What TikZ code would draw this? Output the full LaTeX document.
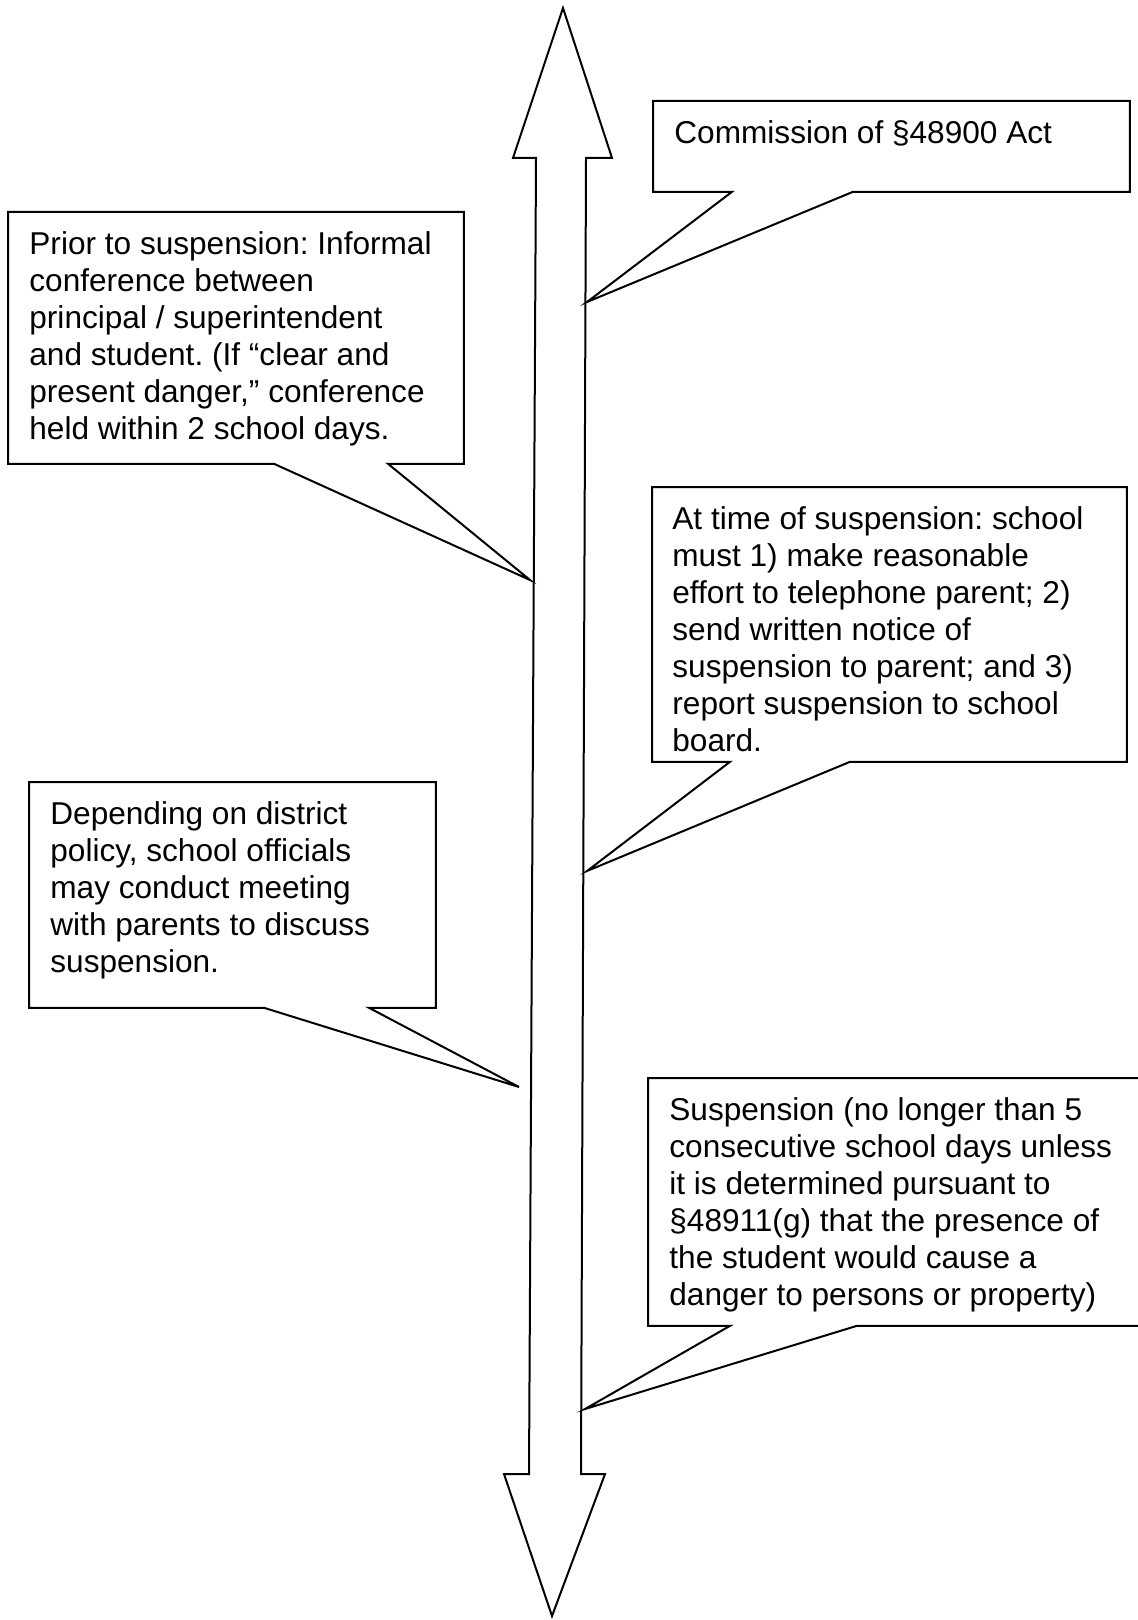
\documentclass[tikz,border=0pt]{standalone}
\usepackage{fontspec}
\setmainfont{Liberation Sans}
\usetikzlibrary{calc,positioning}
\frenchspacing

\begin{document}
\begin{tikzpicture}[
      x=0.5pt, y=-0.5pt,
      shell/.style={
            rectangle, inner sep=0pt, anchor=north west
        },
      note/.style={
            inner sep=0pt, align=left, text=black,
            font=\fontsize{15.8}{18.5}\selectfont
        },
      outline/.style={
            draw=black, line width=1pt, line join=miter, fill=white
        }
      ]
    \useasboundingbox (0,0) rectangle (1137,1620);

    % time line
    \coordinate (top) at (563,8);
    \coordinate (bottom) at (552,1616);
    \draw[outline] (top) -- (612,158) -- (586,158) -- (581,1474) -- (605,1474)
      -- (bottom) -- (504,1474) -- (529,1474) -- (536,158) -- (513,158) -- cycle;

    % commission
    \node[shell, minimum width=238pt, minimum height=45pt] (act) at (653,101) {};
    \coordinate (act tip) at (587,302);
    \draw[outline] ($(act.south west)+(79,0)$) -- (act.south west) -- (act.north west)
      -- (act.north east) -- (act.south east) -- ($(act.south west)+(200,0)$) -- (act tip) -- cycle;
    \node[note, below right=9.5pt and 10.5pt of act.north west] (act text) {Commission of §48900 Act};

    % informal conference
    \node[shell, minimum width=227.5pt, minimum height=125.5pt] (prior) at (8,212) {};
    \coordinate (prior tip) at (530,580);
    \draw[outline] ($(prior.south west)+(266,0)$) -- (prior.south west) -- (prior.north west)
      -- (prior.north east) -- (prior.south east) -- ($(prior.south west)+(380,0)$) -- (prior tip) -- cycle;
    \node[note, below right=9.5pt and 10.5pt of prior.north west] (prior text) {Prior to suspension: Informal\\
      conference between\\principal / superintendent\\and student. (If “clear and\\
      present danger,” conference\\held within 2 school days.};

    % notice
    \node[shell, minimum width=237pt, minimum height=137pt] (notice) at (652,487) {};
    \coordinate (notice tip) at (587,871);
    \draw[outline] ($(notice.south west)+(78,0)$) -- (notice.south west) -- (notice.north west)
      -- (notice.north east) -- (notice.south east) -- ($(notice.south west)+(198,0)$) -- (notice tip) -- cycle;
    \node[note, below right=9.5pt and 10pt of notice.north west] (notice text) {At time of suspension: school\\
      must 1) make reasonable\\effort to telephone parent; 2)\\send written notice of\\
      suspension to parent; and 3)\\report suspension to school\\board.};

    % parent meeting
    \node[shell, minimum width=203pt, minimum height=112.5pt] (meeting) at (29,782) {};
    \coordinate (meeting tip) at (519,1087);
    \draw[outline] ($(meeting.south west)+(235,0)$) -- (meeting.south west) -- (meeting.north west)
      -- (meeting.north east) -- (meeting.south east) -- ($(meeting.south west)+(340,0)$) -- (meeting tip) -- cycle;
    \node[note, below right=9.5pt and 10.5pt of meeting.north west] (meeting text) {Depending on district\\
      policy, school officials\\may conduct meeting\\with parents to discuss\\suspension.};

    % suspension
    \node[shell, minimum width=247pt, minimum height=123.5pt] (susp) at (648,1078) {};
    \coordinate (susp tip) at (585,1409);
    \draw[outline] ($(susp.south west)+(82,0)$) -- (susp.south west) -- (susp.north west)
      -- (susp.north east) -- (susp.south east) -- ($(susp.south west)+(209,0)$) -- (susp tip) -- cycle;
    \node[note, below right=9.5pt and 10.5pt of susp.north west] (susp text) {Suspension (no longer than 5\\
      consecutive school days unless\\it is determined pursuant to\\§48911(g) that the presence of\\
      the student would cause a\\danger to persons or property)};
\end{tikzpicture}
\end{document}
